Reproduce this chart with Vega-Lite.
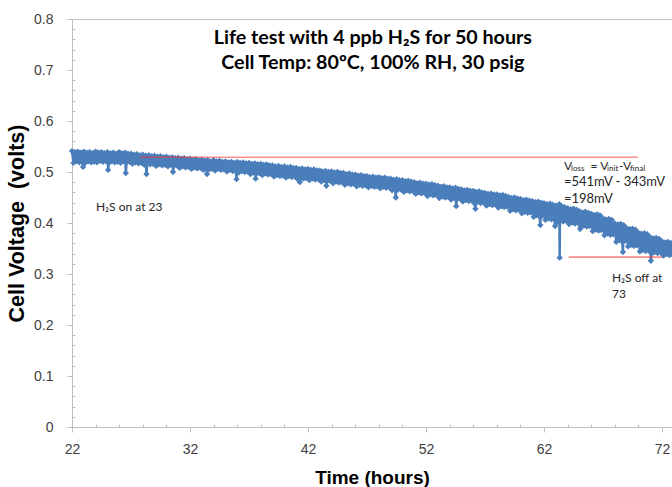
{
  "$schema": "https://vega.github.io/schema/vega-lite/v6.json",
  "width": 600,
  "height": 408,
  "autosize": {"type": "none"},
  "padding": {"left": 72, "top": 19, "right": 0, "bottom": 60},
  "background": "white",
  "config": {
    "view": {"stroke": "#c4c4c4", "strokeWidth": 1},
    "axis": {"domainColor": "#bfbfbf", "tickColor": "#bfbfbf", "grid": false, "labelColor": "#404040", "labelFont": "Liberation Sans Narrow, Liberation Sans", "labelFontSize": 14, "titleFont": "Liberation Sans", "titleFontWeight": "bold", "titleColor": "#000000"}
  },
  "datasets": {
    "series": [
      {"t":22,"v":0.541},{"t":22.125,"v":0.518},{"t":22.25,"v":0.539},{"t":22.375,"v":0.521},{"t":22.5,"v":0.540},{"t":22.625,"v":0.519},{"t":22.75,"v":0.538},{"t":22.875,"v":0.520},{"t":22.94,"v":0.510},
      {"t":23,"v":0.540},{"t":23.125,"v":0.518},{"t":23.25,"v":0.538},{"t":23.375,"v":0.521},{"t":23.5,"v":0.539},{"t":23.625,"v":0.519},{"t":23.75,"v":0.537},{"t":23.875,"v":0.520},
      {"t":24,"v":0.540},{"t":24.125,"v":0.519},{"t":24.25,"v":0.538},{"t":24.375,"v":0.522},{"t":24.5,"v":0.539},{"t":24.625,"v":0.520},{"t":24.75,"v":0.537},{"t":24.875,"v":0.521},
      {"t":25,"v":0.539},{"t":25.06,"v":0.504},{"t":25.125,"v":0.518},{"t":25.25,"v":0.537},{"t":25.375,"v":0.521},{"t":25.5,"v":0.538},{"t":25.625,"v":0.519},{"t":25.75,"v":0.536},{"t":25.875,"v":0.520},
      {"t":26,"v":0.539},{"t":26.125,"v":0.518},{"t":26.25,"v":0.537},{"t":26.375,"v":0.521},{"t":26.5,"v":0.538},{"t":26.56,"v":0.498},{"t":26.625,"v":0.519},{"t":26.75,"v":0.536},{"t":26.875,"v":0.520},
      {"t":27,"v":0.536},{"t":27.125,"v":0.516},{"t":27.25,"v":0.534},{"t":27.375,"v":0.519},{"t":27.5,"v":0.535},{"t":27.625,"v":0.517},{"t":27.75,"v":0.533},{"t":27.875,"v":0.518},
      {"t":28,"v":0.534},{"t":28.125,"v":0.514},{"t":28.25,"v":0.532},{"t":28.31,"v":0.496},{"t":28.375,"v":0.517},{"t":28.5,"v":0.533},{"t":28.625,"v":0.515},{"t":28.75,"v":0.531},{"t":28.875,"v":0.516},
      {"t":29,"v":0.532},{"t":29.125,"v":0.512},{"t":29.25,"v":0.530},{"t":29.375,"v":0.515},{"t":29.5,"v":0.531},{"t":29.625,"v":0.513},{"t":29.75,"v":0.529},{"t":29.875,"v":0.514},
      {"t":30,"v":0.530},{"t":30.125,"v":0.511},{"t":30.25,"v":0.528},{"t":30.375,"v":0.514},{"t":30.5,"v":0.529},{"t":30.56,"v":0.500},{"t":30.625,"v":0.512},{"t":30.75,"v":0.527},{"t":30.875,"v":0.513},
      {"t":31,"v":0.528},{"t":31.125,"v":0.508},{"t":31.25,"v":0.526},{"t":31.375,"v":0.511},{"t":31.5,"v":0.527},{"t":31.625,"v":0.509},{"t":31.75,"v":0.525},{"t":31.875,"v":0.510},
      {"t":32,"v":0.526},{"t":32.125,"v":0.506},{"t":32.25,"v":0.524},{"t":32.375,"v":0.509},{"t":32.5,"v":0.525},{"t":32.625,"v":0.507},{"t":32.75,"v":0.523},{"t":32.875,"v":0.508},
      {"t":33,"v":0.524},{"t":33.125,"v":0.504},{"t":33.25,"v":0.522},{"t":33.375,"v":0.507},{"t":33.44,"v":0.496},{"t":33.5,"v":0.523},{"t":33.625,"v":0.505},{"t":33.75,"v":0.521},{"t":33.875,"v":0.506},
      {"t":34,"v":0.523},{"t":34.125,"v":0.503},{"t":34.25,"v":0.521},{"t":34.375,"v":0.506},{"t":34.5,"v":0.522},{"t":34.625,"v":0.504},{"t":34.75,"v":0.520},{"t":34.875,"v":0.505},
      {"t":35,"v":0.521},{"t":35.125,"v":0.501},{"t":35.25,"v":0.519},{"t":35.375,"v":0.504},{"t":35.5,"v":0.520},{"t":35.625,"v":0.502},{"t":35.75,"v":0.518},{"t":35.875,"v":0.503},{"t":35.94,"v":0.486},
      {"t":36,"v":0.520},{"t":36.125,"v":0.499},{"t":36.25,"v":0.518},{"t":36.375,"v":0.502},{"t":36.5,"v":0.519},{"t":36.625,"v":0.500},{"t":36.75,"v":0.517},{"t":36.875,"v":0.501},
      {"t":37,"v":0.518},{"t":37.125,"v":0.496},{"t":37.25,"v":0.516},{"t":37.375,"v":0.499},{"t":37.5,"v":0.517},{"t":37.56,"v":0.487},{"t":37.625,"v":0.497},{"t":37.75,"v":0.515},{"t":37.875,"v":0.498},
      {"t":38,"v":0.516},{"t":38.125,"v":0.494},{"t":38.25,"v":0.514},{"t":38.375,"v":0.497},{"t":38.5,"v":0.515},{"t":38.625,"v":0.495},{"t":38.75,"v":0.513},{"t":38.875,"v":0.496},
      {"t":39,"v":0.513},{"t":39.125,"v":0.491},{"t":39.25,"v":0.511},{"t":39.375,"v":0.494},{"t":39.5,"v":0.512},{"t":39.625,"v":0.492},{"t":39.75,"v":0.510},{"t":39.875,"v":0.493},
      {"t":40,"v":0.511},{"t":40.125,"v":0.489},{"t":40.25,"v":0.509},{"t":40.375,"v":0.492},{"t":40.5,"v":0.510},{"t":40.625,"v":0.490},{"t":40.75,"v":0.508},{"t":40.875,"v":0.491},
      {"t":41,"v":0.508},{"t":41.125,"v":0.486},{"t":41.25,"v":0.506},{"t":41.31,"v":0.480},{"t":41.375,"v":0.489},{"t":41.5,"v":0.507},{"t":41.625,"v":0.487},{"t":41.75,"v":0.505},{"t":41.875,"v":0.488},
      {"t":42,"v":0.506},{"t":42.125,"v":0.484},{"t":42.25,"v":0.504},{"t":42.375,"v":0.487},{"t":42.5,"v":0.505},{"t":42.625,"v":0.485},{"t":42.75,"v":0.503},{"t":42.875,"v":0.486},
      {"t":43,"v":0.503},{"t":43.125,"v":0.481},{"t":43.25,"v":0.501},{"t":43.375,"v":0.484},{"t":43.5,"v":0.502},{"t":43.56,"v":0.473},{"t":43.625,"v":0.482},{"t":43.75,"v":0.500},{"t":43.875,"v":0.483},
      {"t":44,"v":0.501},{"t":44.125,"v":0.478},{"t":44.25,"v":0.499},{"t":44.375,"v":0.481},{"t":44.5,"v":0.500},{"t":44.625,"v":0.479},{"t":44.75,"v":0.498},{"t":44.875,"v":0.480},
      {"t":45,"v":0.498},{"t":45.125,"v":0.475},{"t":45.25,"v":0.496},{"t":45.375,"v":0.478},{"t":45.5,"v":0.497},{"t":45.625,"v":0.476},{"t":45.75,"v":0.495},{"t":45.875,"v":0.477},
      {"t":46,"v":0.495},{"t":46.125,"v":0.472},{"t":46.25,"v":0.493},{"t":46.375,"v":0.475},{"t":46.5,"v":0.494},{"t":46.625,"v":0.473},{"t":46.75,"v":0.492},{"t":46.875,"v":0.474},
      {"t":47,"v":0.492},{"t":47.125,"v":0.470},{"t":47.25,"v":0.490},{"t":47.375,"v":0.473},{"t":47.5,"v":0.491},{"t":47.625,"v":0.471},{"t":47.75,"v":0.489},{"t":47.875,"v":0.472},
      {"t":48,"v":0.490},{"t":48.125,"v":0.468},{"t":48.25,"v":0.488},{"t":48.375,"v":0.471},{"t":48.5,"v":0.489},{"t":48.625,"v":0.469},{"t":48.75,"v":0.487},{"t":48.875,"v":0.470},
      {"t":49,"v":0.487},{"t":49.125,"v":0.464},{"t":49.25,"v":0.485},{"t":49.375,"v":0.467},{"t":49.44,"v":0.450},{"t":49.5,"v":0.486},{"t":49.625,"v":0.465},{"t":49.75,"v":0.484},{"t":49.875,"v":0.466},
      {"t":50,"v":0.484},{"t":50.125,"v":0.461},{"t":50.25,"v":0.482},{"t":50.375,"v":0.464},{"t":50.5,"v":0.483},{"t":50.625,"v":0.462},{"t":50.75,"v":0.481},{"t":50.875,"v":0.463},
      {"t":51,"v":0.480},{"t":51.125,"v":0.457},{"t":51.25,"v":0.478},{"t":51.375,"v":0.460},{"t":51.5,"v":0.479},{"t":51.625,"v":0.458},{"t":51.75,"v":0.477},{"t":51.875,"v":0.459},
      {"t":52,"v":0.477},{"t":52.125,"v":0.453},{"t":52.25,"v":0.475},{"t":52.375,"v":0.456},{"t":52.5,"v":0.476},{"t":52.625,"v":0.454},{"t":52.75,"v":0.474},{"t":52.875,"v":0.455},
      {"t":53,"v":0.473},{"t":53.125,"v":0.449},{"t":53.25,"v":0.471},{"t":53.375,"v":0.452},{"t":53.5,"v":0.472},{"t":53.625,"v":0.450},{"t":53.75,"v":0.470},{"t":53.875,"v":0.451},
      {"t":54,"v":0.470},{"t":54.125,"v":0.446},{"t":54.25,"v":0.468},{"t":54.375,"v":0.449},{"t":54.5,"v":0.469},{"t":54.56,"v":0.433},{"t":54.625,"v":0.447},{"t":54.75,"v":0.467},{"t":54.875,"v":0.448},
      {"t":55,"v":0.466},{"t":55.125,"v":0.442},{"t":55.25,"v":0.464},{"t":55.375,"v":0.445},{"t":55.5,"v":0.465},{"t":55.625,"v":0.443},{"t":55.75,"v":0.463},{"t":55.875,"v":0.444},
      {"t":56,"v":0.463},{"t":56.125,"v":0.438},{"t":56.19,"v":0.428},{"t":56.25,"v":0.461},{"t":56.375,"v":0.441},{"t":56.5,"v":0.462},{"t":56.625,"v":0.439},{"t":56.75,"v":0.460},{"t":56.875,"v":0.440},
      {"t":57,"v":0.459},{"t":57.125,"v":0.434},{"t":57.25,"v":0.457},{"t":57.375,"v":0.437},{"t":57.5,"v":0.458},{"t":57.625,"v":0.435},{"t":57.75,"v":0.456},{"t":57.875,"v":0.436},
      {"t":58,"v":0.456},{"t":58.125,"v":0.430},{"t":58.25,"v":0.454},{"t":58.375,"v":0.433},{"t":58.5,"v":0.455},{"t":58.625,"v":0.431},{"t":58.75,"v":0.453},{"t":58.875,"v":0.432},
      {"t":59,"v":0.451},{"t":59.125,"v":0.424},{"t":59.25,"v":0.449},{"t":59.375,"v":0.427},{"t":59.5,"v":0.450},{"t":59.625,"v":0.425},{"t":59.75,"v":0.448},{"t":59.875,"v":0.426},
      {"t":60,"v":0.447},{"t":60.125,"v":0.419},{"t":60.25,"v":0.445},{"t":60.375,"v":0.422},{"t":60.5,"v":0.446},{"t":60.625,"v":0.420},{"t":60.75,"v":0.444},{"t":60.875,"v":0.421},
      {"t":61,"v":0.443},{"t":61.125,"v":0.412},{"t":61.25,"v":0.441},{"t":61.375,"v":0.415},{"t":61.5,"v":0.442},{"t":61.625,"v":0.413},{"t":61.69,"v":0.396},{"t":61.75,"v":0.440},{"t":61.875,"v":0.414},
      {"t":62,"v":0.439},{"t":62.125,"v":0.406},{"t":62.25,"v":0.437},{"t":62.375,"v":0.409},{"t":62.5,"v":0.438},{"t":62.625,"v":0.407},{"t":62.75,"v":0.436},{"t":62.875,"v":0.408},{"t":62.94,"v":0.394},
      {"t":63,"v":0.434},{"t":63.125,"v":0.402},{"t":63.25,"v":0.432},{"t":63.3,"v":0.437},{"t":63.33,"v":0.332},{"t":63.36,"v":0.430},{"t":63.375,"v":0.405},{"t":63.5,"v":0.433},{"t":63.625,"v":0.403},{"t":63.75,"v":0.431},{"t":63.875,"v":0.404},
      {"t":64,"v":0.429},{"t":64.125,"v":0.398},{"t":64.25,"v":0.427},{"t":64.375,"v":0.401},{"t":64.5,"v":0.428},{"t":64.625,"v":0.399},{"t":64.75,"v":0.426},{"t":64.875,"v":0.400},
      {"t":65,"v":0.423},{"t":65.06,"v":0.388},{"t":65.125,"v":0.392},{"t":65.25,"v":0.421},{"t":65.375,"v":0.395},{"t":65.5,"v":0.422},{"t":65.625,"v":0.393},{"t":65.75,"v":0.420},{"t":65.875,"v":0.394},
      {"t":66,"v":0.418},{"t":66.125,"v":0.384},{"t":66.25,"v":0.416},{"t":66.375,"v":0.387},{"t":66.5,"v":0.417},{"t":66.625,"v":0.385},{"t":66.75,"v":0.415},{"t":66.875,"v":0.386},
      {"t":67,"v":0.409},{"t":67.125,"v":0.376},{"t":67.25,"v":0.407},{"t":67.375,"v":0.379},{"t":67.5,"v":0.408},{"t":67.625,"v":0.377},{"t":67.75,"v":0.406},{"t":67.875,"v":0.378},
      {"t":68,"v":0.399},{"t":68.125,"v":0.363},{"t":68.25,"v":0.397},{"t":68.375,"v":0.366},{"t":68.5,"v":0.398},{"t":68.625,"v":0.364},{"t":68.69,"v":0.343},{"t":68.75,"v":0.396},{"t":68.875,"v":0.365},
      {"t":69,"v":0.390},{"t":69.125,"v":0.354},{"t":69.25,"v":0.388},{"t":69.375,"v":0.357},{"t":69.5,"v":0.389},{"t":69.625,"v":0.355},{"t":69.75,"v":0.387},{"t":69.875,"v":0.356},
      {"t":70,"v":0.381},{"t":70.125,"v":0.344},{"t":70.25,"v":0.379},{"t":70.375,"v":0.347},{"t":70.5,"v":0.380},{"t":70.625,"v":0.345},{"t":70.75,"v":0.378},{"t":70.875,"v":0.346},
      {"t":71,"v":0.372},{"t":71.06,"v":0.326},{"t":71.125,"v":0.340},{"t":71.25,"v":0.370},{"t":71.375,"v":0.343},{"t":71.5,"v":0.371},{"t":71.625,"v":0.341},{"t":71.75,"v":0.369},{"t":71.875,"v":0.342},
      {"t":72,"v":0.364},{"t":72.125,"v":0.336},{"t":72.25,"v":0.362},{"t":72.375,"v":0.339},{"t":72.5,"v":0.363},{"t":72.625,"v":0.337},{"t":72.75,"v":0.361},{"t":72.875,"v":0.338},{"t":73,"v":0.355},{"t":73.125,"v":0.330}
    ],
    "refs": [
      {"t": 27.76, "t2": 69.97, "v": 0.529},
      {"t": 64.1, "t2": 72.0, "v": 0.333}
    ],
    "notes": [
      {"t": 24.03, "v": 0.431, "text": "H₂S on at 23"},
      {"t": 67.76, "v": 0.292, "text": "H₂S off at"},
      {"t": 67.76, "v": 0.261, "text": "73"},
      {"t": 63.69, "v": 0.512, "text": "V"},
      {"t": 65.95, "v": 0.512, "text": "= V"},
      {"t": 68.36, "v": 0.512, "text": "-V"}
    ],
    "block": [
      {"t": 63.69, "v": 0.480, "text": "=541mV - 343mV"},
      {"t": 63.69, "v": 0.447, "text": "=198mV"}
    ],
    "subs": [
      {"t": 64.3, "v": 0.506, "text": "loss"},
      {"t": 67.35, "v": 0.506, "text": "init"},
      {"t": 69.3, "v": 0.506, "text": "final"}
    ],
    "heading": [
      {"t": 47.5, "v": 0.763, "text": "Life test with 4 ppb H₂S for 50 hours"},
      {"t": 47.5, "v": 0.714, "text": "Cell Temp: 80ºC, 100% RH, 30 psig"}
    ]
  },
  "encoding": {
    "x": {"field": "t", "type": "quantitative",
          "scale": {"domain": [22, 72.85], "nice": false, "zero": false},
          "axis": {
            "title": "Time (hours)", "titlePadding": 12, "titleFontSize": 19,
            "values": [22,24,26,28,30,32,34,36,38,40,42,44,46,48,50,52,54,56,58,60,62,64,66,68,70,72],
            "labelExpr": "(datum.value - 22) % 10 == 0 ? datum.label : ''",
            "labelOverlap": false, "labelPadding": 10, "labelFlush": false,
            "tickSize": {"condition": {"test": "(datum.value - 22) % 10 == 0", "value": 5}, "value": -3}
          }},
    "y": {"field": "v", "type": "quantitative",
          "scale": {"domain": [0, 0.8], "nice": false},
          "axis": {
            "title": "Cell Voltage\u00a0 (volts)", "titlePadding": 5, "titleFontSize": 21.5,
            "values": [0,0.02,0.04,0.06,0.08,0.1,0.12,0.14,0.16,0.18,0.2,0.22,0.24,0.26,0.28,0.3,0.32,0.34,0.36,0.38,0.4,0.42,0.44,0.46,0.48,0.5,0.52,0.54,0.56,0.58,0.6,0.62,0.64,0.66,0.68,0.7,0.72,0.74,0.76,0.78,0.8],
            "labelExpr": "abs(datum.value*10 - round(datum.value*10)) < 0.001 ? format(datum.value, '.1~f') : ''",
            "labelOverlap": false, "labelPadding": 14, "labelFlush": false,
            "tickSize": {"condition": {"test": "abs(datum.value*10 - round(datum.value*10)) < 0.001", "value": 5}, "value": -3}
          }}
  },
  "layer": [
    {
      "data": {"name": "series"},
      "mark": {"type": "line", "color": "#4a7ebb", "strokeWidth": 2.5}
    },
    {
      "data": {"name": "series"},
      "mark": {"type": "point", "shape": "diamond", "filled": true, "size": 40, "opacity": 1, "color": "#4a7ebb"}
    },
    {
      "data": {"name": "refs"},
      "mark": {"type": "rule", "color": "#ff2f2f", "opacity": 0.55, "strokeWidth": 1.6},
      "encoding": {"x2": {"field": "t2"}}
    },
    {
      "data": {"name": "notes"},
      "mark": {"type": "text", "align": "left", "baseline": "middle", "font": "Lato", "fontSize": 12, "color": "#262626"},
      "encoding": {"text": {"field": "text"}}
    },
    {
      "data": {"name": "block"},
      "mark": {"type": "text", "align": "left", "baseline": "middle", "font": "Lato", "fontSize": 13, "color": "#262626"},
      "encoding": {"text": {"field": "text"}}
    },
    {
      "data": {"name": "subs"},
      "mark": {"type": "text", "align": "left", "baseline": "middle", "font": "Lato", "fontSize": 8, "color": "#262626"},
      "encoding": {"text": {"field": "text"}}
    },
    {
      "data": {"name": "heading"},
      "mark": {"type": "text", "align": "center", "baseline": "middle", "font": "Lato", "fontSize": 19.7, "fontWeight": "bold", "color": "#000000"},
      "encoding": {"text": {"field": "text"}}
    }
  ]
}
